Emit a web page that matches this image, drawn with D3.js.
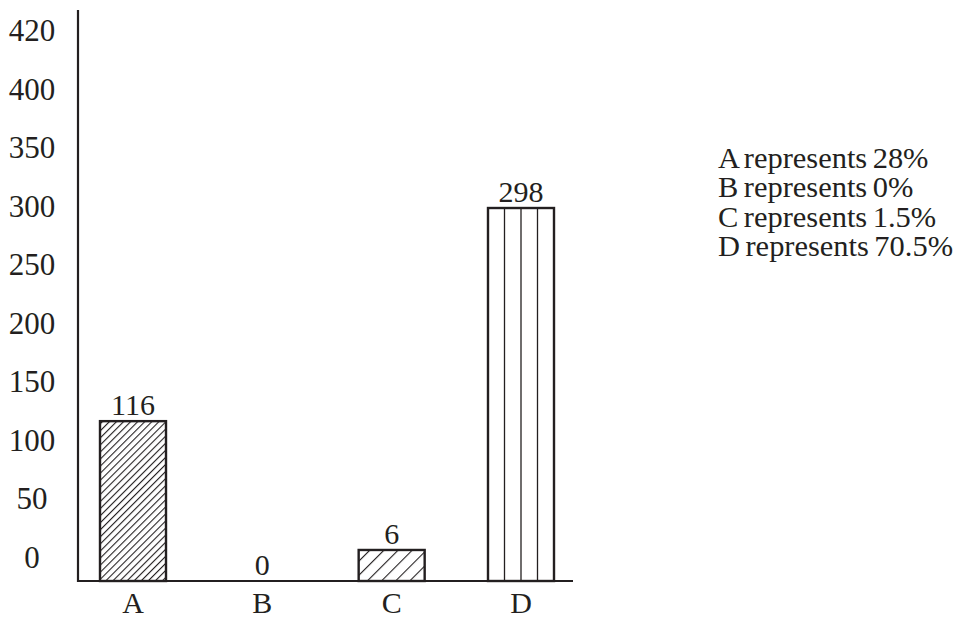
<!DOCTYPE html>
<html>
<head>
<meta charset="utf-8">
<script src="https://cdn.jsdelivr.net/npm/d3@7"></script>
<style>
  html, body { margin: 0; padding: 0; background: #fff; }
  svg { display: block; }
  text { font-family: "Liberation Serif", "Times New Roman", serif; fill: #231f20; }
</style>
</head>
<body>
<svg id="chart" width="964" height="619"></svg>
<script>
// ---- data ----
const categories = ["A", "B", "C", "D"];
const values = [116, 0, 6, 298];
const tickLabels = [0, 50, 100, 150, 200, 250, 300, 350, 400, 420];
const legendLabels = ["A represents 28%", "B represents 0%", "C represents 1.5%", "D represents 70.5%"];

// ---- styles (by category) ----
const fillStyle = { A: "dense", B: "none", C: "sparse", D: "vertical" };
const ink = "#231f20";

const W = 964, H = 619;
const axisX = 78, baseY = 581, axisTop = 10, axisRight = 573;

const svg = d3.select("#chart");

// patterns
const defs = svg.append("defs");
function hatchPattern(id, spacing) {
  const p = defs.append("pattern")
    .attr("id", id)
    .attr("patternUnits", "userSpaceOnUse")
    .attr("width", spacing).attr("height", spacing)
    .attr("patternTransform", "rotate(45)");
  p.append("line")
    .attr("x1", 0).attr("y1", 0).attr("x2", 0).attr("y2", spacing)
    .attr("stroke", ink).attr("stroke-width", 2.2);
}
hatchPattern("dense", 5);
hatchPattern("sparse", 10);

// y axis: evenly spaced tick labels
const yTick = d3.scalePoint().domain(tickLabels).range([baseY - 13, 41]);
// value scale reads positions off the labelled ticks (label centres)
const yVal = d3.scaleLinear()
  .domain(tickLabels)
  .range(tickLabels.map(t => yTick(t) - 11));

// x positions
const x = d3.scalePoint().domain(categories).range([133, 521]);
const barW = 66;

// axes lines
svg.append("line")
  .attr("x1", axisX).attr("y1", axisTop).attr("x2", axisX).attr("y2", baseY + 1)
  .attr("stroke", ink).attr("stroke-width", 2.2);
svg.append("line")
  .attr("x1", axisX - 1).attr("y1", baseY).attr("x2", axisRight).attr("y2", baseY)
  .attr("stroke", ink).attr("stroke-width", 2.2);

// y tick labels
svg.append("g").selectAll("text")
  .data(tickLabels)
  .join("text")
  .attr("x", 32)
  .attr("y", d => yTick(d))
  .attr("text-anchor", "middle")
  .attr("font-size", 31)
  .text(d => d);

// bars
const data = categories.map((c, i) => ({ c, v: values[i] }));
const bars = svg.append("g");
data.forEach(d => {
  if (d.v <= 0) return;
  const x0 = x(d.c) - barW / 2;
  const top = yVal(d.v);
  const h = baseY - top;
  const style = fillStyle[d.c];
  bars.append("rect")
    .attr("x", x0).attr("y", top).attr("width", barW).attr("height", h)
    .attr("fill", style === "dense" || style === "sparse" ? `url(#${style})` : "#fff");
  if (style === "vertical") {
    [1, 2, 3].forEach(k => {
      bars.append("line")
        .attr("x1", x0 + k * barW / 4).attr("x2", x0 + k * barW / 4)
        .attr("y1", top).attr("y2", baseY)
        .attr("stroke", ink).attr("stroke-width", 1.3);
    });
  }
  bars.append("rect")
    .attr("x", x0).attr("y", top).attr("width", barW).attr("height", h)
    .attr("fill", "none").attr("stroke", ink).attr("stroke-width", 2.4);
});

// value labels
svg.append("g").selectAll("text")
  .data(data)
  .join("text")
  .attr("x", d => x(d.c))
  .attr("y", d => (d.v > 0 ? yVal(d.v) : baseY) - 6)
  .attr("text-anchor", "middle")
  .attr("font-size", 30)
  .text(d => d.v);

// category labels
svg.append("g").selectAll("text")
  .data(categories)
  .join("text")
  .attr("x", d => x(d))
  .attr("y", 613)
  .attr("text-anchor", "middle")
  .attr("font-size", 30)
  .text(d => d);

// legend
svg.append("g")
  .attr("transform", "translate(718,0) scale(1.05,1)")
  .selectAll("text")
  .data(legendLabels)
  .join("text")
  .attr("x", 0)
  .attr("y", (d, i) => 168 + i * 29.4)
  .attr("font-size", 29)
  .attr("word-spacing", -2)
  .text(d => d);
</script>
</body>
</html>
